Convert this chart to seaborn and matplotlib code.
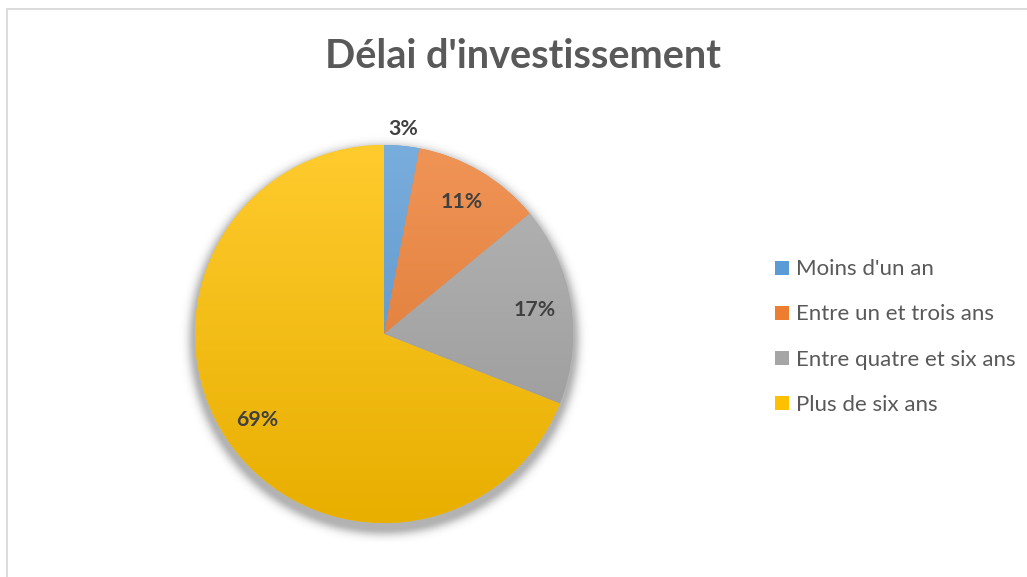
import numpy as np
import matplotlib
matplotlib.use("Agg")
import matplotlib.pyplot as plt
import matplotlib.colors as mcolors
from matplotlib.lines import Line2D
from matplotlib.patches import Rectangle
import seaborn as sns

# Data
title = "Délai d'investissement"
categories = ["Moins d'un an", "Entre un et trois ans", "Entre quatre et six ans", "Plus de six ans"]
shares = [3, 11, 17, 69]

sns.set_theme(style="white")
plt.rcParams["font.family"] = ["Lato", "DejaVu Sans"]

palette = sns.color_palette(["#5B9BD5", "#ED7D31", "#A5A5A5", "#FFC000"])

W, H, DPI = 1027, 577, 100
fig = plt.figure(figsize=(W / DPI, H / DPI), dpi=DPI)
fig.patch.set_facecolor("white")

# Chart frame (top and left edges visible)
fig.add_artist(Rectangle((7 / W, -0.05), 1.2, (H - 9) / H + 0.05, transform=fig.transFigure,
                         fill=False, edgecolor="#D9D9D9", linewidth=1.3))

# Pie axes: centre and radius placed in pixels
cx, cy, r = 384, 334, 189
half = 1.1 * r
ax = fig.add_axes([(cx - half) / W, (H - cy - half) / H, 2 * half / W, 2 * half / H])

# Soft drop shadow beneath the pie
gx = np.linspace(-1.1, 1.1, 500)
X, Y = np.meshgrid(gx, gx)
d = np.sqrt(X ** 2 + (Y + 0.03) ** 2) - 1.0
alpha = np.where(d > 0, 0.4 * np.exp(-(d / 0.04) ** 2), 0.4)
shadow = np.zeros((500, 500, 4))
shadow[..., :3] = 0.25
shadow[..., 3] = alpha
ax.imshow(shadow, extent=(-1.1, 1.1, -1.1, 1.1), origin="lower", zorder=0, interpolation="bilinear")

wedges, _ = ax.pie(shares, colors=palette, startangle=90, counterclock=False,
                   radius=1.0, wedgeprops=dict(linewidth=0), normalize=True)


def shade(color, t):
    """Blend a colour lighter (t<0) or darker (t>0)."""
    c = np.array(mcolors.to_rgb(color))
    if t < 0:
        return c + (1 - c) * (-t)
    return c * (1 - t)


# Vertical gradient fill inside each wedge
ys = np.linspace(1, -1, 300)
for w, col in zip(wedges, palette):
    top, bot = shade(col, -0.18), shade(col, 0.09)
    grad = np.array([top + (bot - top) * (1 - y) / 2 for y in ys])
    img = np.repeat(grad[:, None, :], 2, axis=1)
    im = ax.imshow(img, extent=(-1, 1, -1, 1), origin="upper", zorder=2,
                   interpolation="bilinear", aspect="auto")
    im.set_clip_path(w)

# Percentage labels
for v, w in zip(shares, wedges):
    mid = np.deg2rad((w.theta1 + w.theta2) / 2)
    dist = 1.09 if v < 5 else 0.81
    ax.text(dist * np.cos(mid), dist * np.sin(mid), f"{v}%", ha="center", va="center",
            fontsize=15.3, fontweight="bold", color="#404040", zorder=5)

ax.set_xlim(-1.1, 1.1)
ax.set_ylim(-1.1, 1.1)
ax.set_aspect("equal")
ax.axis("off")

fig.text(523 / W, 1 - 57 / H, title, ha="center", va="center", fontsize=28.5,
         fontweight="bold", color="#595959")

handles = [Line2D([], [], marker="s", linestyle="none", markersize=10,
                  markerfacecolor=c, markeredgewidth=0) for c in palette]
leg = fig.legend(handles, categories, loc="center left", bbox_to_anchor=(758 / W, 1 - 337 / H),
                 frameon=False, fontsize=16, labelspacing=1.13, handletextpad=0.0,
                 handlelength=1.2, borderpad=0)
for t in leg.get_texts():
    t.set_color("#595959")

fig.savefig("out.png", dpi=DPI, facecolor="white")
